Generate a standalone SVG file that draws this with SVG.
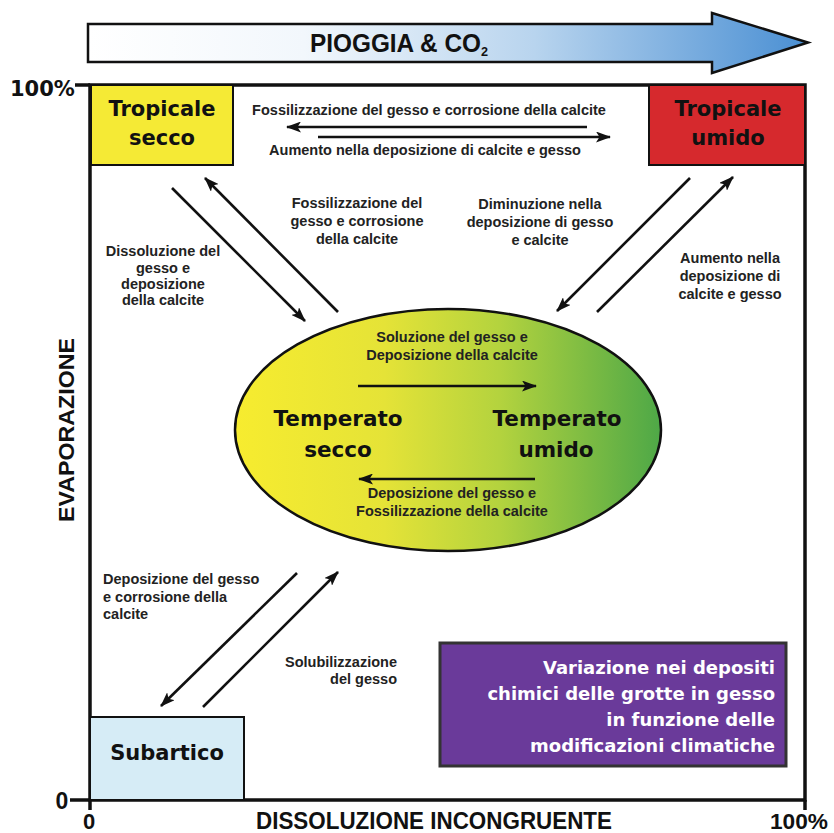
<svg xmlns="http://www.w3.org/2000/svg" width="834" height="833" viewBox="0 0 834 833">
  <style>
    .lbl { font-family: "Liberation Sans", Arial, sans-serif; font-weight: bold; font-size: 14.5px; fill: #222; }
    .heavy { font-family: "DejaVu Sans", "Liberation Sans", sans-serif; font-weight: bold; fill: #111; }
    .cond { font-family: "Liberation Sans", Arial, sans-serif; font-weight: bold; fill: #111; }
    .conn { stroke: #111; stroke-width: 2.6; fill: none; marker-end: url(#ah); }
    .axis { stroke: #111; stroke-width: 3.5; fill: none; }
    .box { stroke: #111; stroke-width: 2; }
  </style>
  <defs>
    <marker id="ah" markerUnits="userSpaceOnUse" markerWidth="15" markerHeight="11" refX="14" refY="5.5" orient="auto">
      <path d="M0,0 L15,5.5 L0,11 L3.5,5.5 z" fill="#111"/>
    </marker>
    <linearGradient id="gArrow" x1="0" y1="0" x2="1" y2="0">
      <stop offset="0" stop-color="#ffffff"/>
      <stop offset="0.3" stop-color="#f2f7fc"/>
      <stop offset="0.62" stop-color="#b8d4ee"/>
      <stop offset="1" stop-color="#4a8fd3"/>
    </linearGradient>
    <linearGradient id="gEll" x1="0" y1="0" x2="1" y2="0">
      <stop offset="0" stop-color="#f7ec2f"/>
      <stop offset="0.35" stop-color="#e5e337"/>
      <stop offset="0.62" stop-color="#b4d33e"/>
      <stop offset="1" stop-color="#4ea847"/>
    </linearGradient>
  </defs>
  <rect x="0" y="0" width="834" height="833" fill="#ffffff"/>

  <!-- top arrow -->
  <g id="pioggia">
    <polygon points="88,24 712,24 712,13 808,42.5 712,73 712,62 88,62" fill="url(#gArrow)" stroke="#111" stroke-width="2.5" stroke-linejoin="miter"/>
    <text class="cond" x="310" y="52" font-size="25" textLength="178" lengthAdjust="spacingAndGlyphs">PIOGGIA &amp; CO<tspan font-size="13" dy="4">2</tspan></text>
  </g>

  <!-- frame and axes -->
  <g id="axes">
    <rect x="90" y="85" width="715" height="715" class="axis"/>
    <line x1="75" y1="85" x2="90" y2="85" class="axis"/>
    <line x1="70" y1="800" x2="90" y2="800" class="axis"/>
    <line x1="90" y1="800" x2="90" y2="810" class="axis"/>
    <line x1="805" y1="800" x2="805" y2="810" class="axis"/>
    <text class="heavy" x="10" y="96" font-size="21">100%</text>
    <text class="cond" x="62" y="809" font-size="23" text-anchor="middle">0</text>
    <text class="cond" x="89" y="829" font-size="22" text-anchor="middle">0</text>
    <text class="cond" x="799" y="829" font-size="22" text-anchor="middle" textLength="58" lengthAdjust="spacingAndGlyphs">100%</text>
    <text class="cond" x="434" y="829" font-size="23" text-anchor="middle" textLength="356" lengthAdjust="spacingAndGlyphs">DISSOLUZIONE INCONGRUENTE</text>
    <text class="cond" transform="translate(74,430) rotate(-90)" x="0" y="0" font-size="22" text-anchor="middle" textLength="184" lengthAdjust="spacingAndGlyphs">EVAPORAZIONE</text>
  </g>

  <!-- nodes -->
  <g id="tropicale-secco">
    <rect x="91" y="85" width="142" height="80" fill="#f5ea35" class="box"/>
    <text class="heavy" x="162" y="116" font-size="21" text-anchor="middle">Tropicale</text>
    <text class="heavy" x="162" y="145" font-size="21" text-anchor="middle">secco</text>
  </g>
  <g id="tropicale-umido">
    <rect x="649" y="85" width="156" height="80" fill="#d6292d" class="box"/>
    <text class="heavy" x="728" y="116" font-size="21" text-anchor="middle">Tropicale</text>
    <text class="heavy" x="728" y="145" font-size="21" text-anchor="middle">umido</text>
  </g>
  <g id="subartico">
    <rect x="90" y="717" width="154" height="83" fill="#d6ecf6" class="box"/>
    <text class="heavy" x="167" y="760" font-size="21" text-anchor="middle">Subartico</text>
  </g>
  <g id="temperato">
    <ellipse cx="448" cy="430" rx="213" ry="121" fill="url(#gEll)" stroke="#111" stroke-width="2.5"/>
    <text class="heavy" x="338" y="426" font-size="21.5" text-anchor="middle">Temperato</text>
    <text class="heavy" x="338" y="457" font-size="21.5" text-anchor="middle">secco</text>
    <text class="heavy" x="557" y="426" font-size="21.5" text-anchor="middle">Temperato</text>
    <text class="heavy" x="556" y="457" font-size="21.5" text-anchor="middle">umido</text>
    <text class="lbl" x="452" y="342" text-anchor="middle">Soluzione del gesso e</text>
    <text class="lbl" x="452" y="360" text-anchor="middle">Deposizione della calcite</text>
    <text class="lbl" x="452" y="498" text-anchor="middle">Deposizione del gesso e</text>
    <text class="lbl" x="452" y="516" text-anchor="middle">Fossilizzazione della calcite</text>
  </g>
  <g id="legenda">
    <rect x="440" y="643" width="346" height="123" fill="#6a3a9a" stroke="#333" stroke-width="3"/>
    <g class="heavy" font-size="18" text-anchor="end" style="fill:#ffffff">
      <text x="775" y="674">Variazione nei depositi</text>
      <text x="775" y="700">chimici delle grotte in gesso</text>
      <text x="775" y="726">in funzione delle</text>
      <text x="775" y="752">modificazioni climatiche</text>
    </g>
  </g>

  <!-- connectors -->
  <g id="connectors">
    <line class="conn" x1="587" y1="127" x2="287" y2="127"/>
    <line class="conn" x1="318" y1="137" x2="610" y2="137"/>
    <line class="conn" x1="172" y1="188" x2="305" y2="321"/>
    <line class="conn" x1="338" y1="312" x2="205" y2="178"/>
    <line class="conn" x1="690" y1="178" x2="557" y2="311"/>
    <line class="conn" x1="597" y1="312" x2="733" y2="177"/>
    <line class="conn" x1="297" y1="573" x2="161" y2="706"/>
    <line class="conn" x1="203" y1="707" x2="338" y2="572"/>
    <line class="conn" x1="358" y1="386" x2="536" y2="386"/>
    <line class="conn" x1="535" y1="479" x2="359" y2="479"/>
  </g>

  <!-- connector labels -->
  <g id="connector-labels">
    <text class="lbl" x="429" y="115" text-anchor="middle">Fossilizzazione del gesso e corrosione della calcite</text>
    <text class="lbl" x="425" y="155" text-anchor="middle">Aumento nella deposizione di calcite e gesso</text>
    <text class="lbl" x="357" y="208" text-anchor="middle">Fossilizzazione del</text>
    <text class="lbl" x="357" y="226" text-anchor="middle">gesso e corrosione</text>
    <text class="lbl" x="357" y="244" text-anchor="middle">della calcite</text>
    <text class="lbl" x="163" y="256" text-anchor="middle">Dissoluzione del</text>
    <text class="lbl" x="163" y="273" text-anchor="middle">gesso e</text>
    <text class="lbl" x="163" y="289" text-anchor="middle">deposizione</text>
    <text class="lbl" x="163" y="305" text-anchor="middle">della calcite</text>
    <text class="lbl" x="540" y="209" text-anchor="middle">Diminuzione nella</text>
    <text class="lbl" x="540" y="227" text-anchor="middle">deposizione di gesso</text>
    <text class="lbl" x="540" y="245" text-anchor="middle">e calcite</text>
    <text class="lbl" x="730" y="263" text-anchor="middle">Aumento nella</text>
    <text class="lbl" x="730" y="281" text-anchor="middle">deposizione di</text>
    <text class="lbl" x="730" y="299" text-anchor="middle">calcite e gesso</text>
    <text class="lbl" x="103" y="584">Deposizione del gesso</text>
    <text class="lbl" x="103" y="602">e corrosione della</text>
    <text class="lbl" x="103" y="619">calcite</text>
    <text class="lbl" x="397" y="667" text-anchor="end">Solubilizzazione</text>
    <text class="lbl" x="397" y="684" text-anchor="end">del gesso</text>
  </g>
</svg>
